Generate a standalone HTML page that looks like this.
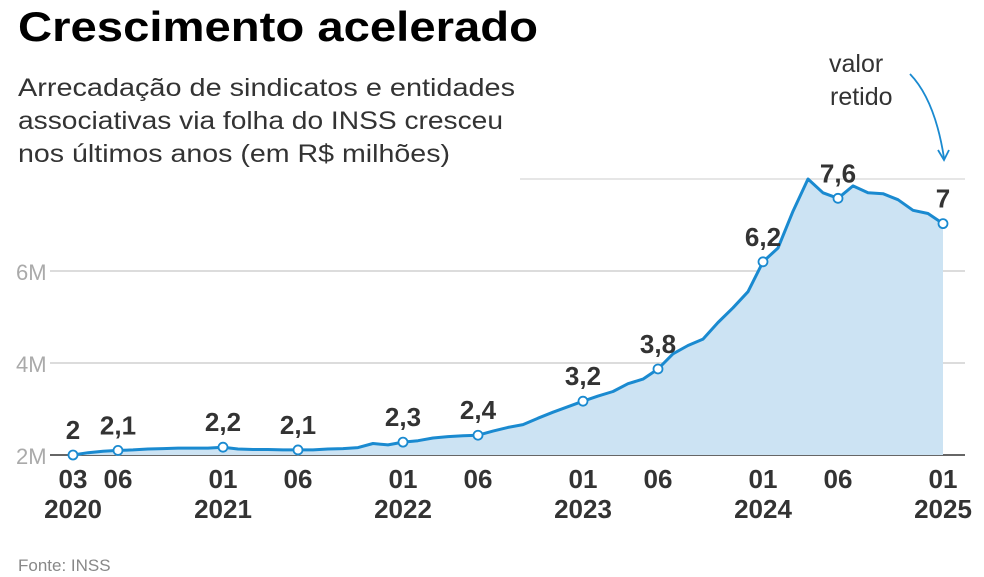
<!DOCTYPE html>
<html><head><meta charset="utf-8"><style>
html,body{margin:0;padding:0;background:#fff}
svg{display:block;font-family:"Liberation Sans",sans-serif}
</style></head><body>
<svg id="chart" width="984" height="577" viewBox="0 0 984 577">
<text x="18" y="41" font-size="42" font-weight="bold" fill="#000" textLength="520" lengthAdjust="spacingAndGlyphs">Crescimento acelerado</text>
<g fill="#333" font-size="25">
<text x="18" y="96" textLength="497" lengthAdjust="spacingAndGlyphs">Arrecadação de sindicatos e entidades</text>
<text x="18" y="129" textLength="485" lengthAdjust="spacingAndGlyphs">associativas via folha do INSS cresceu</text>
<text x="18" y="162" textLength="432" lengthAdjust="spacingAndGlyphs">nos últimos anos (em R$ milhões)</text>
</g>
<g id="grid"></g>
<g id="area"></g>
<g id="marks"></g>
<g id="xaxis"></g>
<g>
<text x="829" y="72" font-size="25" fill="#333">valor</text>
<text x="830" y="105" font-size="25" fill="#333">retido</text>
<path d="M910,74 Q935,100 944,158" fill="none" stroke="#1a8ad0" stroke-width="1.8"/>
<path d="M938,150 L944,160 L949,150" fill="none" stroke="#1a8ad0" stroke-width="1.8"/>
</g>
<text x="18" y="571" font-size="17" fill="#888">Fonte: INSS</text>
</svg>
<script>
const values=[2.0,2.05,2.08,2.1,2.11,2.13,2.14,2.15,2.15,2.15,2.17,2.13,2.12,2.12,2.11,2.11,2.11,2.13,2.14,2.16,2.25,2.22,2.28,2.31,2.37,2.4,2.42,2.43,2.52,2.6,2.66,2.8,2.93,3.05,3.17,3.28,3.38,3.55,3.65,3.87,4.2,4.38,4.52,4.88,5.2,5.55,6.2,6.5,7.3,8.0,7.7,7.58,7.85,7.7,7.68,7.55,7.32,7.25,7.03];
const markIdx=[0,3,10,15,22,27,34,39,46,51,58];
const markLabels=["2","2,1","2,2","2,1","2,3","2,4","3,2","3,8","6,2","7,6","7"];
const yTicks=[2,4,6];
const yTickLabels=["2M","4M","6M"];
const xTickIdx=[0,3,10,15,22,27,34,39,46,51,58];
const xMonths=["03","06","01","06","01","06","01","06","01","06","01"];
const xYears=["2020","","2021","","2022","","2023","","2024","","2025"];
const NS="http://www.w3.org/2000/svg";
const X=i=>73+i*15.0;
const Y=v=>455-(v-2)*46;
function mk(t,a,p){const e=document.createElementNS(NS,t);for(const k in a)e.setAttribute(k,a[k]);p.appendChild(e);return e;}
const grid=document.getElementById('grid');
yTicks.forEach((v,i)=>{
 const l=mk('line',{x1:50,x2:965,y1:Y(v),y2:Y(v),stroke:i==0?'#333':'#c8c8c8','stroke-width':i==0?1.5:1.2},grid);
 
 
 const t=mk('text',{x:16,y:Y(v)+9,'font-size':22,fill:'#aaa'},grid);t.textContent=yTickLabels[i];
 
 
});
const topLine=mk('line',{x1:520,x2:965,y1:Y(8),y2:Y(8),stroke:'#ddd','stroke-width':1.5},grid);


let d='';values.forEach((v,i)=>{d+=(i?'L':'M')+X(i).toFixed(1)+','+Y(v).toFixed(1);});
const area=mk('path',{d:d+`L${X(values.length-1)},${Y(2)}L${X(0)},${Y(2)}Z`,fill:'#cce3f3'},document.getElementById('area'));


const marks=document.getElementById('marks');
const line=mk('path',{d:d,fill:'none',stroke:'#1a8ad0','stroke-width':3,'stroke-linejoin':'round'},marks);


markIdx.forEach((ix,k)=>{
 const c=mk('circle',{cx:X(ix),cy:Y(values[ix]),r:4.5,fill:'#fff',stroke:'#1a8ad0','stroke-width':1.8},marks);
 
 
 const t=mk('text',{x:X(ix),y:Y(values[ix])-16,'font-size':26,'font-weight':'bold',fill:'#333','text-anchor':'middle'},marks);
 t.textContent=markLabels[k];
 
 
});
const xa=document.getElementById('xaxis');
xTickIdx.forEach((ix,k)=>{
 const t=mk('text',{x:X(ix),y:488,'font-size':26,'font-weight':'bold',fill:'#333','text-anchor':'middle'},xa);
 t.textContent=xMonths[k];
 
 
 if(xYears[k]){const y=mk('text',{x:X(ix),y:518,'font-size':26,'font-weight':'bold',fill:'#333','text-anchor':'middle'},xa);
 y.textContent=xYears[k];
 
 }
});
</script>
</body></html>
